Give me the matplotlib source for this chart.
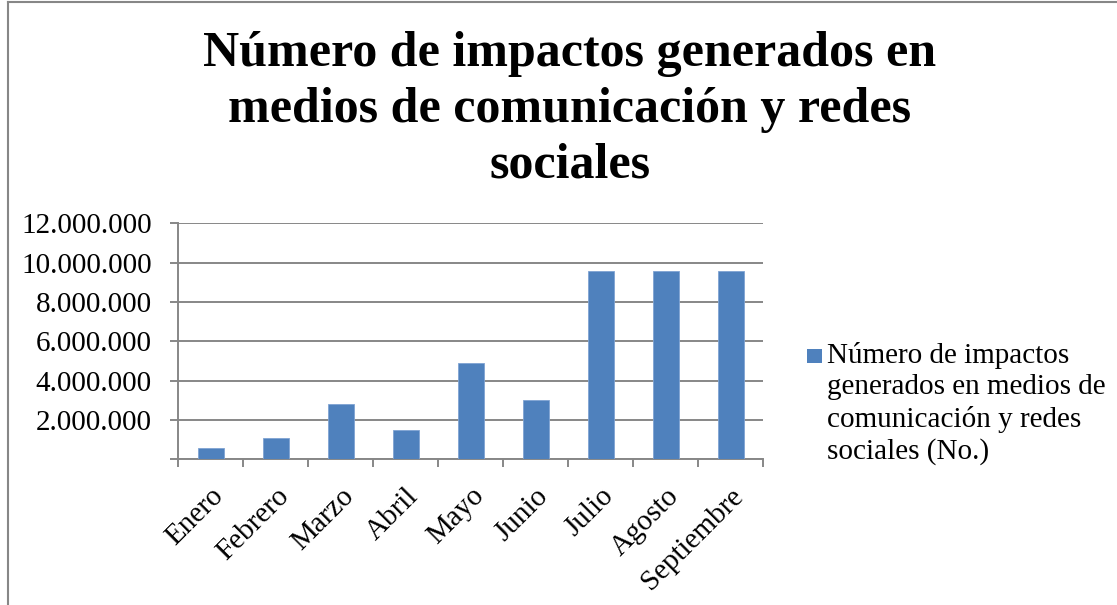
import matplotlib
matplotlib.use("Agg")
import matplotlib.pyplot as plt
from matplotlib.lines import Line2D
from matplotlib.patches import Rectangle
from matplotlib.ticker import FixedLocator
from matplotlib.transforms import ScaledTranslation

months = ["Enero", "Febrero", "Marzo", "Abril", "Mayo", "Junio", "Julio", "Agosto", "Septiembre"]
impacts = [570000, 1070000, 2830000, 1470000, 4890000, 3010000, 9550000, 9550000, 9550000]
ytick_values = [0, 2000000, 4000000, 6000000, 8000000, 10000000, 12000000]
ytick_labels = ["", "2.000.000", "4.000.000", "6.000.000", "8.000.000", "10.000.000", "12.000.000"]
title = "Número de impactos generados en\nmedios de comunicación y redes\nsociales"
legend_label = "Número de impactos\ngenerados en medios de\ncomunicación y redes\nsociales (No.)"

W, H = 1117, 605
fig = plt.figure(figsize=(W / 100, H / 100), dpi=100)
fig.patch.set_facecolor("white")

grid_c = "#878787"
bar_c = "#4F81BD"
serif = ["Liberation Serif", "DejaVu Serif"]
px = 72 / 100  # points per pixel

ax = fig.add_axes([178 / W, 1 - 459.3 / H, (763 - 178) / W, (459.3 - 223.3) / H])
x = list(range(len(months)))
ax.bar(x, impacts, width=0.4, color=bar_c, edgecolor="#7FA3D3", linewidth=0.6, zorder=3)
ax.set_xlim(-0.5, len(months) - 0.5)
ax.set_ylim(0, 12000000)
ax.yaxis.set_major_locator(FixedLocator(ytick_values))
ax.set_yticklabels(ytick_labels, fontsize=21, family=serif)
ax.set_xticks(x)
ax.set_xticklabels(months, fontsize=21, family=serif, rotation=45, ha="right",
                   rotation_mode="anchor")
shift = ScaledTranslation(5 / 100, 0, fig.dpi_scale_trans)
for lbl in ax.get_xticklabels():
    lbl.set_transform(lbl.get_transform() + shift)
ax.xaxis.set_minor_locator(FixedLocator([i - 0.5 for i in range(len(months) + 1)]))
ax.tick_params(axis="x", which="major", length=0, pad=17)
ax.tick_params(axis="x", which="minor", length=8 * px, width=1.4, color=grid_c, direction="out")
ax.tick_params(axis="y", length=8 * px, width=1.4, color=grid_c, direction="out", pad=18 * px)
ax.grid(axis="y", color=grid_c, linewidth=1.4, zorder=0)
ax.set_axisbelow(True)
for s in ["top", "right"]:
    ax.spines[s].set_visible(False)
for s in ["left", "bottom"]:
    ax.spines[s].set_color(grid_c)
    ax.spines[s].set_linewidth(1.4)

# va="baseline" anchors the baseline of the last line
fig.text(570 / W, 1 - 177 / H, title, ha="center", va="baseline", fontsize=36,
         fontweight="bold", family=serif, linespacing=1.27, multialignment="center")

# legend (drawn as a patch + text, aligned to the first text line like the original)
fig.add_artist(Rectangle((807 / W, 1 - 363 / H), 14.5 / W, 14.5 / H, transform=fig.transFigure,
                         facecolor=bar_c, edgecolor="none"))
fig.text(827 / W, 1 - 459 / H, legend_label, ha="left", va="baseline", fontsize=21,
         family=serif, linespacing=1.27)

fig.add_artist(Line2D([8 / W, 8 / W], [0, 1 - 1.5 / H], transform=fig.transFigure,
                      color=grid_c, linewidth=1.5))
fig.add_artist(Line2D([8 / W, 1], [1 - 1.5 / H, 1 - 1.5 / H], transform=fig.transFigure,
                      color=grid_c, linewidth=1.5))

fig.savefig("out.png", dpi=100, facecolor="white")
